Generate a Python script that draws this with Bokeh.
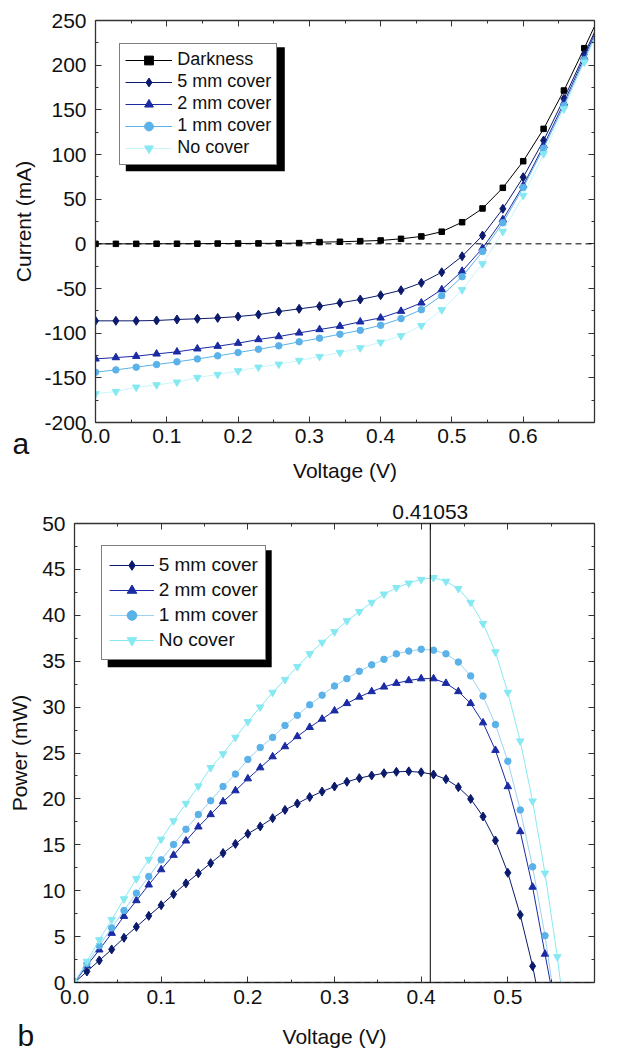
from bokeh.plotting import figure
from bokeh.models import (Range1d, LinearAxis, Span, Legend, LegendItem, Label,
                          BoxAnnotation, SingleIntervalTicker, FixedTicker,
                          PrintfTickFormatter, CustomJSTickFormatter)
from bokeh.layouts import column, row
from bokeh.embed import file_html
from bokeh.resources import INLINE

FONT = "Liberation Sans"

# ---------------- data: panel a (I-V) ----------------
voltage_a = [0.0, 0.0286, 0.0571, 0.0857, 0.1143, 0.1429, 0.1714, 0.2, 0.2286, 0.2571,
             0.2857, 0.3143, 0.3429, 0.3714, 0.4, 0.4286, 0.4571, 0.4857, 0.5143, 0.5429,
             0.5714, 0.6, 0.6286, 0.6571, 0.6857, 0.7143]
dark_a = [0, 0, 0, 0.1, 0.1, 0.2, 0.3, 0.4, 0.5, 0.6, 0.8, 1.9, 2.3, 3.0, 3.8, 5.6, 8.3,
          13.6, 24.2, 39.6, 62.7, 92.5, 128.7, 171.6, 219.0, 268]
mm5_a = [-86.2, -86.2, -86.2, -85.8, -84.7, -83.9, -82.9, -81.4, -79.2, -75.8, -72.8, -69.8,
         -66.1, -62.3, -57.5, -52.0, -43.7, -31.8, -13.9, 9.3, 39.2, 74.6, 115.7, 162.3, 212.0, 262]
mm2_a = [-128.8, -127.3, -125.8, -123.2, -120.9, -117.5, -114.6, -111.2, -107.1, -103.8, -99.7,
         -95.9, -92.2, -87.3, -82.9, -75.4, -66.1, -51.2, -30.6, -4.9, 27.2, 65.3, 110.0, 157.8,
         208.9, 260]
mm1_a = [-143.7, -141.1, -138.1, -135.1, -132.1, -128.8, -125.4, -121.7, -118.0, -114.2, -109.7,
         -105.6, -101.2, -96.8, -91.2, -83.7, -73.7, -58.0, -36.8, -8.6, 23.5, 63.0, 107.0, 154.8,
         206.0, 257]
nocover_a = [-167.9, -165.3, -160.5, -157.9, -154.9, -149.7, -146.3, -142.2, -138.1, -134.8,
             -130.6, -126.2, -121.7, -116.5, -110.2, -103.0, -91.5, -73.9, -51.5, -22.4, 13.8,
             54.1, 100.7, 151.0, 203.3, 255]

# ---------------- data: panel b (P-V) ----------------
voltage_b = [0.0, 0.0143, 0.0286, 0.0429, 0.0571, 0.0714, 0.0857, 0.1, 0.1143, 0.1286,
             0.1429, 0.1571, 0.1714, 0.1857, 0.2, 0.2143, 0.2286, 0.2429, 0.2571, 0.2714,
             0.2857, 0.3, 0.3143, 0.3286, 0.3429, 0.3571, 0.3714, 0.3857, 0.4, 0.4143,
             0.4286, 0.4429, 0.4571, 0.4714, 0.4857, 0.5, 0.5143, 0.5286, 0.5429, 0.5571,
             0.5714]
mm5_b = [0, 1.2, 2.4, 3.6, 4.87, 6.06, 7.26, 8.42, 9.62, 10.8, 11.9, 13.0, 14.1, 15.1, 16.2,
         17.0, 17.9, 18.8, 19.5, 20.2, 20.8, 21.35, 21.86, 22.26, 22.55, 22.8, 22.95, 23.0,
         22.9, 22.66, 22.15, 21.28, 20.0, 18.08, 15.47, 11.95, 7.37, 1.78, -5.0]
mm2_b = [0, 1.84, 3.56, 5.37, 7.22, 8.93, 10.64, 12.3, 13.87, 15.43, 16.96, 18.3, 19.7, 20.9,
         22.2, 23.4, 24.6, 25.7, 26.8, 27.8, 28.7, 29.6, 30.4, 31.1, 31.7, 32.2, 32.6, 32.9,
         33.1, 33.1, 32.6, 31.7, 30.4, 28.3, 25.3, 21.35, 16.45, 10.4, 3.1, -4.0]
mm1_b = [0, 2.05, 4.0, 5.95, 7.84, 9.73, 11.55, 13.36, 15.03, 16.7, 18.3, 19.8, 21.35, 22.7,
         24.3, 25.6, 26.7, 28.0, 29.1, 30.25, 31.3, 32.3, 33.1, 33.9, 34.6, 35.2, 35.8, 36.1,
         36.3, 36.2, 35.8, 34.9, 33.4, 31.2, 28.1, 24.1, 18.8, 12.6, 5.1, -4.0]
nocover_b = [0, 2.3, 4.65, 6.85, 9.1, 11.3, 13.4, 15.6, 17.6, 19.5, 21.4, 23.4, 24.9, 26.7,
             28.4, 30.0, 31.6, 33.0, 34.4, 35.8, 37.05, 38.2, 39.4, 40.4, 41.4, 42.3, 43.0,
             43.5, 43.9, 44.1, 43.7, 42.9, 41.4, 39.1, 36.0, 31.6, 26.3, 19.75, 11.9, 2.8, -7.9]
vmp = 0.41053

labels_a = ["Darkness", "5 mm cover", "2 mm cover", "1 mm cover", "No cover"]
labels_b = ["5 mm cover", "2 mm cover", "1 mm cover", "No cover"]

C_DARK = "#000000"
C_5 = "#0b1a6b"
C_2 = "#1a2ba3"
C_1 = "#5ab2e8"
C_NO = "#86e9f2"
AXC = "#333333"
TXT = "#111111"
EMPTY = "return ''"


def style(p, xint, yint, xfmt, yfmt, xstand, xlabstand, ystand, ylabstand, top_ticker=None,
          top_formatter=None):
    p.xgrid.grid_line_color = None
    p.ygrid.grid_line_color = None
    p.outline_line_color = None
    xa = p.below[0]
    ya = p.left[0]
    xa.ticker = SingleIntervalTicker(interval=xint, num_minor_ticks=2)
    ya.ticker = SingleIntervalTicker(interval=yint, num_minor_ticks=2)
    xa.formatter = PrintfTickFormatter(format=xfmt)
    ya.formatter = PrintfTickFormatter(format=yfmt)
    xa.major_label_standoff = xstand
    xa.axis_label_standoff = xlabstand
    ya.major_label_standoff = ystand
    ya.axis_label_standoff = ylabstand
    top = LinearAxis(ticker=top_ticker or SingleIntervalTicker(interval=xint, num_minor_ticks=2),
                     formatter=top_formatter or CustomJSTickFormatter(code=EMPTY))
    right = LinearAxis(ticker=SingleIntervalTicker(interval=yint, num_minor_ticks=2),
                       formatter=CustomJSTickFormatter(code=EMPTY))
    right.major_label_standoff = 0
    right.major_label_text_font_size = "1px"
    if top_formatter is None:
        top.major_label_standoff = 0
        top.major_label_text_font_size = "1px"
    else:
        top.major_label_standoff = 5
        top.major_label_text_font_size = "21px"
    for ax in (xa, ya):
        ax.major_label_text_font_size = "21px"
    for ax in (xa, ya, top):
        ax.major_label_text_font = FONT
        ax.major_label_text_color = TXT
        ax.axis_label_text_font = FONT
        ax.axis_label_text_font_style = "normal"
        ax.axis_label_text_color = TXT
        ax.axis_label_text_font_size = "21px"
    p.add_layout(top, "above")
    p.add_layout(right, "right")
    for ax in (xa, ya, top, right):
        ax.axis_line_color = AXC
        ax.axis_line_width = 1.3
        ax.major_tick_line_color = AXC
        ax.minor_tick_line_color = AXC
        ax.major_tick_in = 6
        ax.major_tick_out = 0
        ax.minor_tick_in = 3
        ax.minor_tick_out = 0


def shadow(p, x0, x1, y0, y1, fw, fh, left, top, w, h, off):
    # legend-box pixel geometry (relative to the frame's top-left) -> data units
    def dx(px):
        return x0 + px / fw * (x1 - x0)

    def dy(py):
        return y1 - py / fh * (y1 - y0)
    p.add_layout(BoxAnnotation(left=dx(left + off), right=dx(left + w + off),
                               top=dy(top + off), bottom=dy(top + h + off),
                               fill_color="black", fill_alpha=1, line_color=None))


# ---------------- panel a ----------------
FWA, FHA = 499, 402
pa = figure(frame_width=FWA, frame_height=FHA, min_border_left=95, min_border_right=20,
            min_border_top=20, min_border_bottom=68,
            x_range=Range1d(0, 0.7), y_range=Range1d(-200, 250),
            output_backend="svg", toolbar_location=None,
            x_axis_label="Voltage (V)", y_axis_label="Current (mA)")
style(pa, 0.1, 50, "%.1f", "%d", 6, 13, 9, 6)
pa.add_layout(Span(location=0, dimension="width", line_color="black", line_width=1,
                   line_dash="6 4"))

series_a = [(dark_a, C_DARK, "square", 5.5, 1.0),
            (mm5_a, C_5, "diamond", 9, 1.0),
            (mm2_a, C_2, "triangle", 7.5, 1.0),
            (mm1_a, C_1, "circle", 6.5, 1.0),
            (nocover_a, C_NO, "inverted_triangle", 7.5, 0.45)]
items_a = []
for (ys, c, m, s, la), lab in zip(series_a, labels_a):
    r1 = pa.line(voltage_a, ys, line_color=c, line_width=1, line_alpha=la)
    r2 = pa.scatter(voltage_a, ys, marker=m, size=s, fill_color=c, line_color=c)
    items_a.append(LegendItem(label=lab, renderers=[r1, r2]))

LA = dict(left=24.3, top=20.7, w=159, h=124)
shadow(pa, 0, 0.7, -200, 250, FWA, FHA, LA["left"], LA["top"], LA["w"], LA["h"], 6)
leg_a = Legend(items=items_a, location=(LA["left"], FHA - LA["top"] - LA["h"]),
               border_line_color="black", border_line_width=1, background_fill_alpha=1,
               padding=5, spacing=0, glyph_width=47, glyph_height=22, label_height=22,
               label_standoff=5, label_text_font=FONT, label_text_font_size="18px",
               label_text_color=TXT, margin=0)
pa.add_layout(leg_a, "center")
# panel letter: kept in a side panel so that it is not clipped to the frame
pa.add_layout(Label(x=-0.1164, y=-223.5, text="a", text_font=FONT, text_font_size="30px",
                    text_baseline="alphabetic", text_color=TXT), "right")

# ---------------- panel b ----------------
FWB, FHB = 520, 459
top_ticks = [i / 10 for i in range(7)] + [vmp]
top_minor = [0.05 + i / 10 for i in range(6)]
pb = figure(frame_width=FWB, frame_height=FHB, min_border_left=74, min_border_right=20,
            min_border_top=33, min_border_bottom=73,
            x_range=Range1d(0, 0.6), y_range=Range1d(0, 50),
            output_backend="svg", toolbar_location=None,
            x_axis_label="Voltage (V)", y_axis_label="Power (mW)")
style(pb, 0.1, 5, "%.1f", "%d", 7, 18, 9, 8,
      top_ticker=FixedTicker(ticks=top_ticks, minor_ticks=top_minor),
      top_formatter=CustomJSTickFormatter(
          args=dict(v=vmp), code="return Math.abs(tick - v) < 1e-9 ? v.toFixed(5) : ''"))
pb.add_layout(Span(location=0, dimension="width", line_color="black", line_width=1,
                   line_dash="6 4"))
pb.add_layout(Span(location=vmp, dimension="height", line_color="black", line_width=1))

series_b = [(mm5_b, C_5, "diamond", 9, 1.0),
            (mm2_b, C_2, "triangle", 7.5, 1.0),
            (mm1_b, C_1, "circle", 6.5, 0.6),
            (nocover_b, C_NO, "inverted_triangle", 7.5, 1.0)]
items_b = []
for (ys, c, m, s, la), lab in zip(series_b, labels_b):
    xs = voltage_b[:len(ys)]
    r1 = pb.line(xs, ys, line_color=c, line_width=1, line_alpha=la)
    r2 = pb.scatter(xs, ys, marker=m, size=s, fill_color=c, line_color=c)
    items_b.append(LegendItem(label=lab, renderers=[r1, r2]))

LB = dict(left=26.7, top=20.3, w=164, h=117)
shadow(pb, 0, 0.6, 0, 50, FWB, FHB, LB["left"], LB["top"], LB["w"], LB["h"], 6.5)
leg_b = Legend(items=items_b, location=(LB["left"], FHB - LB["top"] - LB["h"]),
               border_line_color="black", border_line_width=1, background_fill_alpha=1,
               padding=7, spacing=1, glyph_width=45, glyph_height=24, label_height=24,
               label_standoff=5, label_text_font=FONT, label_text_font_size="19px",
               label_text_color=TXT, margin=0)
pb.add_layout(leg_b, "center")
pb.add_layout(Label(x=-0.0658, y=-5.8, text="b", text_font=FONT, text_font_size="30px",
                    text_baseline="alphabetic", text_color=TXT), "right")

layout = column(row(pa), row(pb), spacing=0)
open("out.html", "w").write(file_html(layout, INLINE))
